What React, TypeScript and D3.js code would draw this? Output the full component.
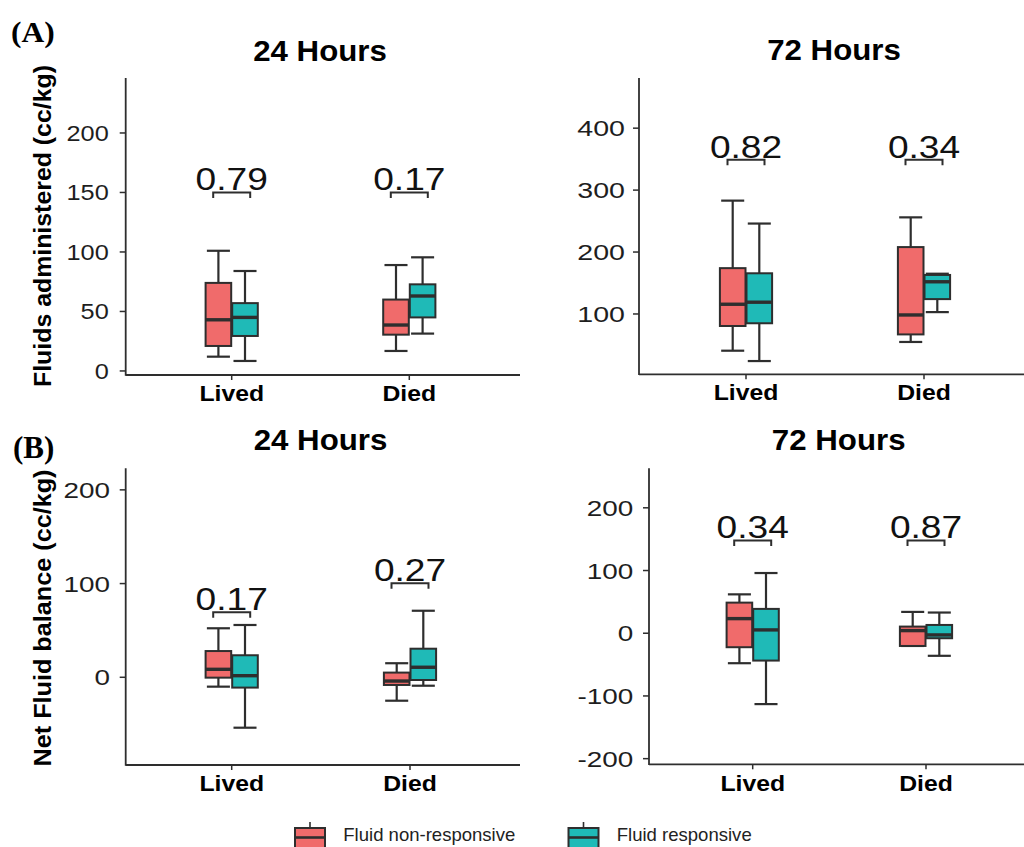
import React from "react";
import * as d3 from "d3";

// ---------- DATA ----------
const groups = ["Lived", "Died"];
const seriesNames = ["Fluid non-responsive", "Fluid responsive"];
const seriesColors = ["#F06B6B", "#1FBAB7"];

// box stats per group: [min, q1, median, q3, max]
const adminH24NonResp = [[12, 21, 43, 74, 101], [16.8, 30.5, 38.6, 60, 89]];
const adminH24Resp = [[8.4, 29.4, 45, 57, 84], [31.4, 45, 63, 72.8, 95.5]];
const adminH72NonResp = [[40.7, 80.6, 115.7, 174, 283], [54.8, 67, 98.4, 208, 256]];
const adminH72Resp = [[24, 85, 119, 165.7, 246], [103, 124, 152, 163, 165]];
const balanceH24NonResp = [[-10, -0.4, 8.5, 28, 52.3], [-25, -8.2, -4, 5, 15]];
const balanceH24Resp = [[-53.8, -11, 1.7, 23.5, 55.8], [-9, -2.9, 10.7, 30.5, 71]];
const balanceH72NonResp = [[-47.8, -22.3, 23.3, 48.8, 62], [-20.3, -20.3, 4.2, 10.6, 34]];
const balanceH72Resp = [[-113, -43.6, 5.3, 38.8, 96], [-36, -8, -2.7, 13.2, 33]];

const adminH24Ticks = [0, 50, 100, 150, 200];
const adminH72Ticks = [100, 200, 300, 400];
const balanceH24Ticks = [0, 100, 200];
const balanceH72Ticks = [-200, -100, 0, 100, 200];

const adminH24P = ["0.79", "0.17"];
const adminH24PY = [150, 150];
const adminH72P = ["0.82", "0.34"];
const adminH72PY = [349, 349];
const balanceH24P = ["0.17", "0.27"];
const balanceH24PY = [69.4, 100.3];
const balanceH72P = ["0.34", "0.87"];
const balanceH72PY = [148, 148];

const panelTitles = ["24 Hours", "72 Hours", "24 Hours", "72 Hours"];
const yTitles = ["Fluids administered (cc/kg)", "Net Fluid balance (cc/kg)"];
const rowLabels = ["(A)", "(B)"];

// ---------- LAYOUT ----------
const FONT = "'Liberation Sans', Arial, Helvetica, sans-serif";
const SERIF = "'Liberation Serif', 'Times New Roman', serif";
const INK = "#2e2e2e";

const panels = [
  {
    nonResp: adminH24NonResp, resp: adminH24Resp, ticks: adminH24Ticks, p: adminH24P, pY: adminH24PY,
    title: panelTitles[0], yDomain: [-3.4, 246.2], yRange: [375, 78], x0: 125.7, x1: 520,
    xRange: [231.7, 409.3], titleX: 320, titleY: 61, tickFont: 22, tickSx: 1.15, tickGap: 17,
    xLabY: 401,
  },
  {
    nonResp: adminH72NonResp, resp: adminH72Resp, ticks: adminH72Ticks, p: adminH72P, pY: adminH72PY,
    title: panelTitles[1], yDomain: [2.6, 481], yRange: [374.3, 78], x0: 639, x1: 1030,
    xRange: [746, 924], titleX: 834, titleY: 60, tickFont: 22.5, tickSx: 1.27, tickGap: 14,
    xLabY: 400,
  },
  {
    nonResp: balanceH24NonResp, resp: balanceH24Resp, ticks: balanceH24Ticks, p: balanceH24P, pY: balanceH24PY,
    title: panelTitles[2], yDomain: [-93.6, 223], yRange: [765, 468.3], x0: 125.7, x1: 520,
    xRange: [231.7, 410], titleX: 320.5, titleY: 450, tickFont: 22.5, tickSx: 1.24, tickGap: 15.7,
    xLabY: 791,
  },
  {
    nonResp: balanceH72NonResp, resp: balanceH72Resp, ticks: balanceH72Ticks, p: balanceH72P, pY: balanceH72PY,
    title: panelTitles[3], yDomain: [-209, 263], yRange: [764.3, 468.3], x0: 649, x1: 1030,
    xRange: [752.7, 926], titleX: 838.7, titleY: 450, tickFont: 22.5, tickSx: 1.24, tickGap: 15.7,
    xLabY: 791,
  },
];

const BOX_W = 25.6;
const DODGE = 13.3;

function SText({ x, y, sx = 1, size, anchor = "middle", weight = "normal", family = FONT, fill = "#000", dy, children }: any) {
  return (
    <text
      transform={`translate(${x},${y}) scale(${sx},1)`}
      textAnchor={anchor}
      fontSize={size}
      fontWeight={weight}
      fontFamily={family}
      fill={fill}
      dy={dy}
    >
      {children}
    </text>
  );
}

function Box({ cx, stats, color, y }: any) {
  const [mn, q1, md, q3, mx] = stats;
  const half = BOX_W / 2;
  const cap = half * 0.9;
  return (
    <g>
      <line x1={cx} x2={cx} y1={y(mx)} y2={y(q3)} stroke={INK} strokeWidth={2.2} />
      <line x1={cx} x2={cx} y1={y(q1)} y2={y(mn)} stroke={INK} strokeWidth={2.2} />
      <line x1={cx - cap} x2={cx + cap} y1={y(mx)} y2={y(mx)} stroke={INK} strokeWidth={2.2} />
      <line x1={cx - cap} x2={cx + cap} y1={y(mn)} y2={y(mn)} stroke={INK} strokeWidth={2.2} />
      <rect x={cx - half} y={y(q3)} width={BOX_W} height={Math.max(0.5, y(q1) - y(q3))} fill={color} stroke={INK} strokeWidth={2} />
      <line x1={cx - half} x2={cx + half} y1={y(md)} y2={y(md)} stroke={INK} strokeWidth={3.4} />
    </g>
  );
}

function Panel({ cfg }: any) {
  const y = d3.scaleLinear().domain(cfg.yDomain).range(cfg.yRange);
  const x = d3.scalePoint<string>().domain(groups).range(cfg.xRange);
  const yBottom = cfg.yRange[0];
  const yTop = cfg.yRange[1];
  return (
    <g>
      <SText x={cfg.titleX} y={cfg.titleY} size={29.5} weight="bold" sx={1.06}>{cfg.title}</SText>
      {/* axes */}
      <line x1={cfg.x0} x2={cfg.x0} y1={yTop} y2={yBottom + 0.8} stroke={INK} strokeWidth={1.8} />
      <line x1={cfg.x0} x2={cfg.x1} y1={yBottom} y2={yBottom} stroke={INK} strokeWidth={1.8} />
      {cfg.ticks.map((t: number) => (
        <g key={t}>
          <line x1={cfg.x0 - 6} x2={cfg.x0} y1={y(t)} y2={y(t)} stroke={INK} strokeWidth={1.5} />
          <SText x={cfg.x0 - cfg.tickGap} y={y(t)} dy="0.36em" size={cfg.tickFont} sx={cfg.tickSx} anchor="end" fill="#1e1e1e">
            {String(t)}
          </SText>
        </g>
      ))}
      {groups.map((g) => (
        <g key={g}>
          <line x1={x(g)} x2={x(g)} y1={yBottom} y2={yBottom + 5} stroke={INK} strokeWidth={1.5} />
          <SText x={x(g)} y={cfg.xLabY} size={22.5} weight="bold" sx={1.1}>{g}</SText>
        </g>
      ))}
      {groups.map((g, gi) => (
        <g key={g + "b"}>
          <Box cx={(x(g) as number) - DODGE} stats={cfg.nonResp[gi]} color={seriesColors[0]} y={y} />
          <Box cx={(x(g) as number) + DODGE} stats={cfg.resp[gi]} color={seriesColors[1]} y={y} />
        </g>
      ))}
      {groups.map((g, gi) => {
        const cx = x(g) as number;
        const by = y(cfg.pY[gi]);
        return (
          <g key={g + "p"}>
            <path
              d={`M${cx - 18.5},${by + 5.5} V${by} H${cx + 18.5} V${by + 5.5}`}
              fill="none"
              stroke={INK}
              strokeWidth={2}
            />
            <SText x={cx} y={by - 2} size={32} sx={1.16} fill="#111">{cfg.p[gi]}</SText>
          </g>
        );
      })}
    </g>
  );
}

export default function App() {
  return (
    <svg
      width={1024}
      height={847}
      viewBox="0 0 1024 847"
      style={{ position: "absolute", left: 0, top: 0, background: "#fff" }}
    >
      <rect width={1024} height={847} fill="#fff" />
      <SText x={11} y={42} size={30} weight="bold" family={SERIF} anchor="start" sx={1.05}>{rowLabels[0]}</SText>
      <SText x={13} y={458} size={31} weight="bold" family={SERIF} anchor="start" sx={1.0}>{rowLabels[1]}</SText>
      <text
        transform="translate(50.5,226) rotate(-90)"
        textAnchor="middle"
        fontSize={23.5}
        fontWeight="bold"
        fontFamily={FONT}
        textLength={322}
        lengthAdjust="spacingAndGlyphs"
      >
        {yTitles[0]}
      </text>
      <text
        transform="translate(50.5,618) rotate(-90)"
        textAnchor="middle"
        fontSize={23.5}
        fontWeight="bold"
        fontFamily={FONT}
        textLength={297}
        lengthAdjust="spacingAndGlyphs"
      >
        {yTitles[1]}
      </text>
      {panels.map((p, i) => (
        <Panel key={i} cfg={p} />
      ))}
      {/* legend */}
      {seriesNames.map((s, i) => {
        const kx = i === 0 ? 295 : 568.5;
        const tx = i === 0 ? 343.3 : 616.7;
        const tl = i === 0 ? 172 : 135;
        return (
          <g key={s}>
            <line x1={kx + 15} x2={kx + 15} y1={822} y2={828} stroke={INK} strokeWidth={1.6} />
            <rect x={kx} y={828} width={30} height={20} fill={seriesColors[i]} stroke={INK} strokeWidth={2} />
            <line x1={kx} x2={kx + 30} y1={837.5} y2={837.5} stroke={INK} strokeWidth={2.6} />
            <text
              x={tx}
              y={840.5}
              fontSize={18.5}
              fontFamily={FONT}
              fill="#222"
              textLength={tl}
              lengthAdjust="spacingAndGlyphs"
            >
              {s}
            </text>
          </g>
        );
      })}
    </svg>
  );
}
